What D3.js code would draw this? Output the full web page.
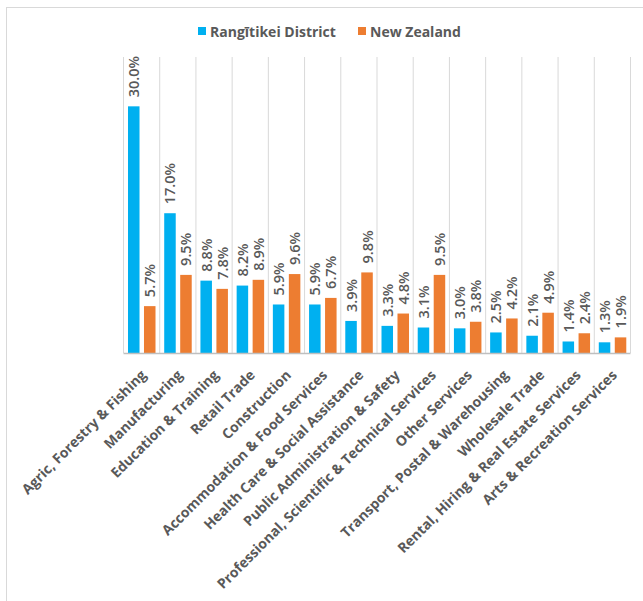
<!DOCTYPE html>
<html>
<head>
<meta charset="utf-8">
<script src="https://cdn.jsdelivr.net/npm/d3@7"></script>
<style>
  body { margin: 0; background: #fff; }
  svg { display: block; font-family: "Open Sans", sans-serif; }
  .cat { font-size: 14px; font-weight: 700; fill: #595959; }
  .val { font-size: 14.5px; font-weight: 600; fill: #595959; }
  .legend text { font-size: 14px; font-weight: 700; fill: #595959; }
</style>
</head>
<body>
<svg width="643" height="601"></svg>
<script>
const categories = [
  "Agric, Forestry & Fishing", "Manufacturing", "Education & Training",
  "Retail Trade", "Construction", "Accommodation & Food Services",
  "Health Care & Social Assistance", "Public Administration & Safety",
  "Professional, Scientific & Technical Services", "Other Services",
  "Transport, Postal & Warehousing", "Wholesale Trade",
  "Rental, Hiring & Real Estate Services", "Arts & Recreation Services"
]
const seriesNames = ["Rangītikei District", "New Zealand"]
const district = [30.0, 17.0, 8.8, 8.2, 5.9, 5.9, 3.9, 3.3, 3.1, 3.0, 2.5, 2.1, 1.4, 1.3]
const nz = [5.7, 9.5, 7.8, 8.9, 9.6, 6.7, 9.8, 4.8, 9.5, 3.8, 4.2, 4.9, 2.4, 1.9]
const colors = ["#00B0F0", "#ED7D31"]

const rows = categories.map((c, i) => ({ cat: c, values: [district[i], nz[i]] }))

const svg = d3.select("svg")

// outer frame
svg.append("rect")
  .attr("x", 6.5).attr("y", 7.5)
  .attr("width", 700).attr("height", 700)
  .attr("fill", "none").attr("stroke", "#d9d9d9")

const x0 = d3.scaleBand()
  .domain(categories)
  .range([123, 630])

const x1 = d3.scaleBand()
  .domain(seriesNames)
  .range([5, 32.5])
  .paddingInner(0.28)

const y = d3.scaleLinear()
  .domain([0, 36])
  .range([353, 57])

// category separators
const seps = categories.map(c => x0(c)).concat([x0.range()[1]])
svg.append("g")
  .selectAll("line")
  .data(seps)
  .enter()
  .append("line")
  .attr("x1", d => d + 0.5).attr("x2", d => d + 0.5)
  .attr("y1", y(36)).attr("y2", y(0))
  .attr("stroke", "#d9d9d9")

const groups = svg.append("g")
  .selectAll("g")
  .data(rows)
  .enter()
  .append("g")
  .attr("transform", d => `translate(${x0(d.cat)},0)`)

groups.selectAll("rect")
  .data(d => d.values.map((v, i) => ({ key: seriesNames[i], v: v, i: i })))
  .enter()
  .append("rect")
  .attr("x", d => x1(d.key))
  .attr("width", x1.bandwidth())
  .attr("y", d => y(d.v))
  .attr("height", d => y(0) - y(d.v))
  .attr("fill", d => colors[d.i])

groups.selectAll("text")
  .data(d => d.values.map((v, i) => ({ key: seriesNames[i], v: v })))
  .enter()
  .append("text")
  .attr("class", "val")
  .attr("transform", d => {
    const cx = x1(d.key) + x1.bandwidth() / 2 + 5.5
    return `translate(${cx},${y(d.v) - 9}) rotate(-90)`
  })
  .text(d => d.v.toFixed(1) + "%")

// baseline axis
const xAxis = svg.append("g")
  .attr("transform", `translate(0,${y(0)})`)
  .call(d3.axisBottom(x0).tickSize(0).tickFormat(""))
xAxis.select(".domain").attr("stroke", "#bfbfbf").attr("stroke-width", 1.5)

// category labels
svg.append("g")
  .selectAll("text")
  .data(categories)
  .enter()
  .append("text")
  .attr("class", "cat")
  .attr("text-anchor", "end")
  .attr("transform", d => `translate(${x0(d) + x0.bandwidth() / 2 + 6},${y(0) + 23}) rotate(-45)`)
  .text(d => d)

// legend
const legend = svg.append("g").attr("class", "legend")
const legendX = [198, 358]
seriesNames.forEach((name, i) => {
  legend.append("rect")
    .attr("x", legendX[i]).attr("y", 27)
    .attr("width", 8).attr("height", 8)
    .attr("fill", colors[i])
  legend.append("text")
    .attr("x", legendX[i] + 12).attr("y", 36.5)
    .text(name)
})
</script>
</body>
</html>
